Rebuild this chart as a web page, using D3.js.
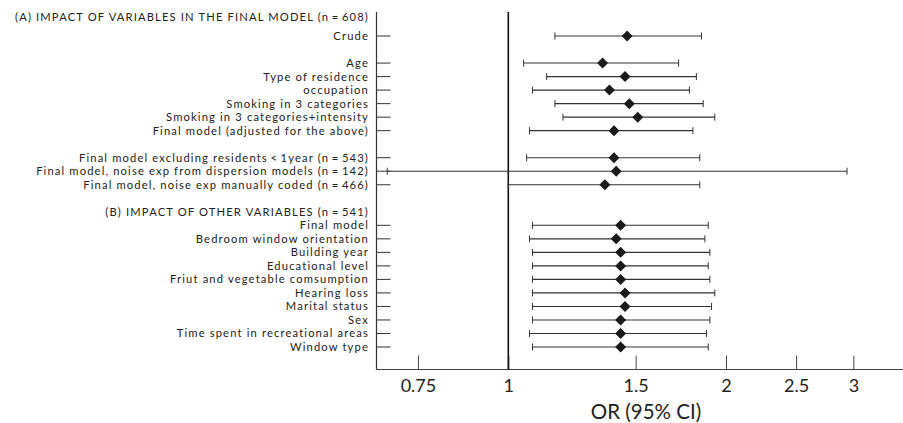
<!DOCTYPE html>
<html>
<head>
<meta charset="utf-8">
<script src="https://cdn.jsdelivr.net/npm/d3@7"></script>
<style>
  body { margin: 0; background: #fff; }
  text { font-family: Lato, "Noto Sans", sans-serif; fill: #222; }
</style>
</head>
<body>
<div id="chart"></div>
<script>
// rows of the forest plot, top to bottom ("" = spacer row)
var rowLabels = [
  "(A) IMPACT OF VARIABLES IN THE FINAL MODEL (n\u2009=\u2009608)",
  "Crude",
  "",
  "Age",
  "Type of residence",
  "occupation",
  "Smoking in 3 categories",
  "Smoking in 3 categories+intensity",
  "Final model (adjusted for the above)",
  "",
  "Final model excluding residents\u2009<\u20091year (n\u2009=\u2009543)",
  "Final model, noise exp from dispersion models (n\u2009=\u2009142)",
  "Final model, noise exp manually coded (n\u2009=\u2009466)",
  "",
  "(B) IMPACT OF OTHER VARIABLES (n\u2009=\u2009541)",
  "Final model",
  "Bedroom window orientation",
  "Building year",
  "Educational level",
  "Friut and vegetable comsumption",
  "Hearing loss",
  "Marital status",
  "Sex",
  "Time spent in recreational areas",
  "Window type"
];
var orValues = [null, 1.46, null, 1.35, 1.45, 1.38, 1.47, 1.51, 1.40, null,
  1.40, 1.41, 1.36, null, null,
  1.43, 1.41, 1.43, 1.43, 1.43, 1.45, 1.45, 1.43, 1.43, 1.43];
var lowValues = [null, 1.16, null, 1.05, 1.13, 1.08, 1.16, 1.19, 1.07, null,
  1.06, 0.68, 1.00, null, null,
  1.08, 1.07, 1.08, 1.08, 1.08, 1.08, 1.08, 1.08, 1.07, 1.08];
var highValues = [null, 1.85, null, 1.72, 1.82, 1.78, 1.86, 1.93, 1.80, null,
  1.84, 2.94, 1.84, null, null,
  1.89, 1.87, 1.90, 1.89, 1.90, 1.93, 1.91, 1.90, 1.88, 1.89];
var headerRows = [0, 14];
var tickValues = [0.75, 1, 1.5, 2, 2.5, 3];
var tickLabels = ["0.75", "1", "1.5", "2", "2.5", "3"];

var width = 903, height = 423;
var svg = d3.select("#chart").append("svg")
  .attr("width", width).attr("height", height);

var axisLeftX = 376.5, axisBottomY = 369.5;

var x = d3.scaleLog().domain([1, 2]).range([508.3, 726]);
var y = d3.scalePoint().domain(d3.range(rowLabels.length)).range([22.5, 347]);

var rows = rowLabels.map(function(label, i) {
  return { i: i, label: label, or: orValues[i], lo: lowValues[i], hi: highValues[i],
    header: headerRows.indexOf(i) >= 0 };
});
var dataRows = rows.filter(function(d) { return d.or != null; });

// left axis line + row ticks
svg.append("line")
  .attr("x1", axisLeftX).attr("x2", axisLeftX)
  .attr("y1", 12).attr("y2", axisBottomY)
  .attr("stroke", "#333").attr("stroke-width", 1.2);

svg.selectAll(".rowtick").data(dataRows).enter().append("line")
  .attr("x1", axisLeftX).attr("x2", axisLeftX + 14)
  .attr("y1", function(d) { return y(d.i); })
  .attr("y2", function(d) { return y(d.i); })
  .attr("stroke", "#333").attr("stroke-width", 1);

// row labels
svg.selectAll(".rowlabel").data(rows.filter(function(d) { return d.label; }))
  .enter().append("text")
  .attr("x", 369)
  .attr("y", function(d) { return y(d.i) + (d.i === 0 ? -5 : 0); })
  .attr("dy", "0.35em")
  .attr("text-anchor", "end")
  .attr("font-size", 11.2)
  .attr("letter-spacing", 1.15)
  .text(function(d) { return d.label; });

// bottom axis
var xAxis = d3.axisTop(x)
  .tickValues(tickValues)
  .tickFormat(function(d, i) { return tickLabels[i]; })
  .tickSize(14);
var gx = svg.append("g")
  .attr("transform", "translate(0," + axisBottomY + ")")
  .call(xAxis);
gx.select(".domain").remove();
gx.selectAll(".tick line").attr("stroke", "#444");
gx.selectAll(".tick text")
  .attr("y", 16).attr("dy", "0.35em")
  .attr("font-size", 18).attr("fill", "#333")
  .style("font-family", "Lato, 'Noto Sans', sans-serif");
svg.append("line")
  .attr("x1", axisLeftX).attr("x2", width)
  .attr("y1", axisBottomY).attr("y2", axisBottomY)
  .attr("stroke", "#444").attr("stroke-width", 1.2);

svg.append("text")
  .attr("x", 646).attr("y", 412)
  .attr("dy", "0.35em")
  .attr("text-anchor", "middle")
  .attr("font-size", 20.5)
  .attr("fill", "#333")
  .text("OR (95% CI)");

// reference line at OR = 1
svg.append("line")
  .attr("x1", x(1)).attr("x2", x(1))
  .attr("y1", 12).attr("y2", axisBottomY)
  .attr("stroke", "#111").attr("stroke-width", 1.6);

// confidence intervals
var ci = svg.selectAll(".ci").data(dataRows).enter().append("g");
ci.append("line")
  .attr("x1", function(d) { return x(d.lo); })
  .attr("x2", function(d) { return x(d.hi); })
  .attr("y1", function(d) { return y(d.i); })
  .attr("y2", function(d) { return y(d.i); })
  .attr("stroke", "#333").attr("stroke-width", 1.1);
["lo", "hi"].forEach(function(k) {
  ci.append("line")
    .attr("x1", function(d) { return x(d[k]); })
    .attr("x2", function(d) { return x(d[k]); })
    .attr("y1", function(d) { return y(d.i) - 3.5; })
    .attr("y2", function(d) { return y(d.i) + 3.5; })
    .attr("stroke", "#333").attr("stroke-width", 1);
});
ci.append("path")
  .attr("d", function(d) {
    var cx = x(d.or), cy = y(d.i), r = 5.5;
    return "M" + cx + "," + (cy - r) + "L" + (cx + r) + "," + cy +
      "L" + cx + "," + (cy + r) + "L" + (cx - r) + "," + cy + "Z";
  })
  .attr("fill", "#1a1a1a");
</script>
</body>
</html>
